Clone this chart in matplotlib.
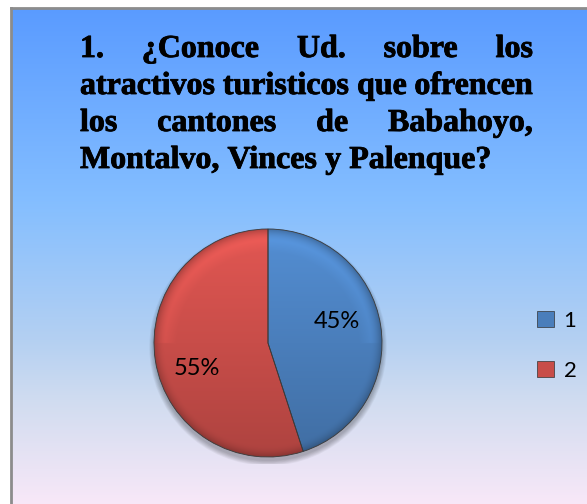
import matplotlib
matplotlib.use("Agg")
import matplotlib.pyplot as plt
import matplotlib.patheffects as pe
import numpy as np
from matplotlib.patches import Rectangle, Circle
from matplotlib.colors import to_rgb

W, H = 587, 504
DPI = 100

title_lines = [
    ["1.", "¿Conoce", "Ud.", "sobre", "los"],
    ["atractivos", "turisticos", "que", "ofrencen"],
    ["los", "cantones", "de", "Babahoyo,"],
    ["Montalvo,", "Vinces", "y", "Palenque?"],
]
categories = ["1", "2"]
shares = [45, 55]
colors = ["#4A7EBB", "#C84D49"]
label_pos = [(0.605, 0.19), (-0.62, -0.22)]

fig = plt.figure(figsize=(W / DPI, H / DPI), dpi=DPI)
fig.patch.set_facecolor("white")

# ---- background gradient chart area ----
bg_ax = fig.add_axes([11 / W, 0, 1 - 11 / W, (H - 8) / H])
stops = [(0.0, (90, 155, 255)), (0.39, (132, 190, 255)), (0.67, (180, 208, 242)),
         (0.79, (208, 220, 240)), (0.93, (235, 228, 245)), (1.0, (248, 232, 248))]
t = np.linspace(0, 1, 500)
grad = np.zeros((500, 1, 3))
for ch in range(3):
    grad[:, 0, ch] = np.interp(t, [s[0] for s in stops], [s[1][ch] / 255 for s in stops])
bg_ax.imshow(grad, aspect="auto", extent=[0, 1, 0, 1], origin="upper")
bg_ax.set_xlim(0, 1)
bg_ax.set_ylim(0, 1)
bg_ax.set_xticks([])
bg_ax.set_yticks([])
for s in ["right", "bottom"]:
    bg_ax.spines[s].set_visible(False)
for s in ["left", "top"]:
    bg_ax.spines[s].set_color("#8c8c8c")
    bg_ax.spines[s].set_linewidth(2)

# ---- justified title ----
renderer = fig.canvas.get_renderer()
tfont = dict(family="Liberation Serif", weight="bold")
left_px, right_px = 80, 533
baselines = [57, 94, 131, 168]
thick = [pe.withStroke(linewidth=0.6, foreground="black")]

probe = fig.text(0, 0, " ".join(title_lines[1]), fontsize=20, **tfont)
wprobe = probe.get_window_extent(renderer).width
probe.remove()
fs = 20 * (right_px - left_px) / wprobe

for i, words in enumerate(title_lines):
    objs = [fig.text(0, (H - baselines[i]) / H, w, fontsize=fs, va="baseline", ha="left",
                     path_effects=thick, **tfont)
            for w in words]
    widths = [o.get_window_extent(renderer).width for o in objs]
    if i < len(title_lines) - 1:
        gap = (right_px - left_px - sum(widths)) / (len(words) - 1)
    else:
        sp = fig.text(0, 0, "a a", fontsize=fs, **tfont)
        sp2 = fig.text(0, 0, "aa", fontsize=fs, **tfont)
        gap = sp.get_window_extent(renderer).width - sp2.get_window_extent(renderer).width
        sp.remove(); sp2.remove()
    x = left_px
    for o, w in zip(objs, widths):
        o.set_x(x / W)
        x += w + gap

# ---- pie ----
cx, cy, r = 268, 343, 114
pad = 1.06
half = r * pad
pie_ax = fig.add_axes([(cx - half) / W, (H - cy - half) / H, 2 * half / W, 2 * half / H])
pie_ax.set_zorder(2)

# soft shadow
for k in range(8):
    pie_ax.add_patch(Circle((0.0, -0.035), 1.0 + 0.006 * k, color="black", alpha=0.035, lw=0, zorder=0.2))

wedges, texts, autotexts = pie_ax.pie(
    shares, colors=colors, startangle=90, counterclock=False,
    autopct="%1.0f%%", pctdistance=0.64,
    wedgeprops=dict(edgecolor="#3a3a3a", linewidth=0.6),
    textprops=dict(fontsize=17, family="Lato", color="black"),
)

n = 500
xs = np.linspace(-1, 1, n)
X, Y = np.meshgrid(xs, xs[::-1])
R = np.hypot(X, Y)
rim = np.clip((R - 0.90) / 0.10, 0, 1)
for wdg, c in zip(wedges, colors):
    base = np.array(to_rgb(c))
    f = (1 + 0.13 * Y) * (1 - 0.22 * rim ** 2) + 0.06 * np.clip((R - 0.8) / 0.1, 0, 1) * (1 - rim) * (Y > 0)
    img = np.clip(base[None, None, :] * f[..., None], 0, 1)
    im = pie_ax.imshow(img, extent=[-1, 1, -1, 1], origin="upper", zorder=1.5)
    im.set_clip_path(wdg)
    wdg.set_facecolor("none")
    wdg.set_zorder(2)
for at, p in zip(autotexts, label_pos):
    at.set_position(p)
    at.set_zorder(5)

pie_ax.set_xlim(-pad, pad)
pie_ax.set_ylim(-pad, pad)
pie_ax.set_aspect("equal")
pie_ax.axis("off")

# ---- legend ----
handles = [Rectangle((0, 0), 1, 1, facecolor=c, edgecolor="#333333", linewidth=0.5) for c in colors]
fig.legend(handles, categories, loc="center left", bbox_to_anchor=(537 / W, (H - 346) / H),
           frameon=False, prop=dict(family="Lato", size=16), handlelength=0.75, handleheight=0.75,
           labelspacing=1.35, handletextpad=0.45, borderaxespad=0, borderpad=0)

fig.savefig("out.png", dpi=DPI)
